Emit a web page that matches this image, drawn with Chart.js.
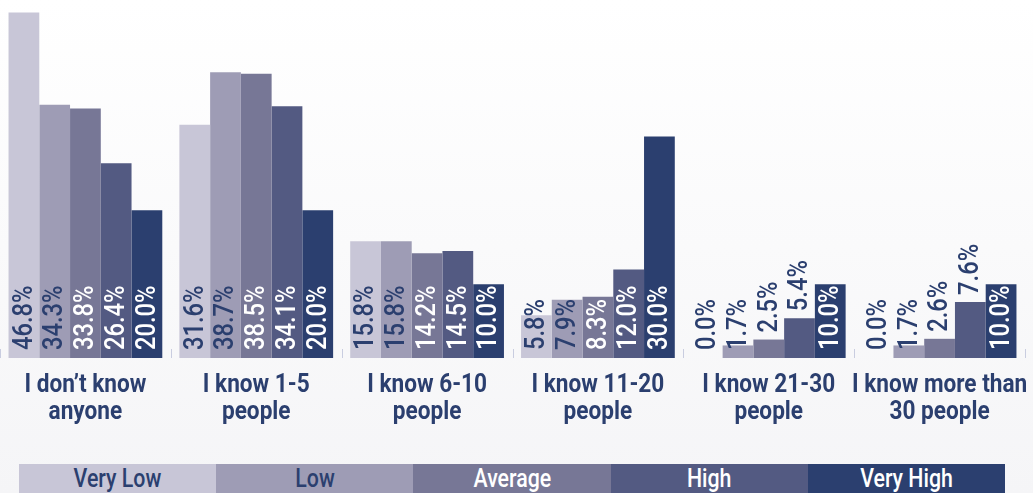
<!DOCTYPE html>
<html>
<head>
<meta charset="utf-8">
<script src="https://cdn.jsdelivr.net/npm/chart.js@4/dist/chart.umd.min.js"></script>
<style>
  html, body { margin: 0; padding: 0; }
  body {
    width: 1033px; height: 493px; overflow: hidden; position: relative;
    background: linear-gradient(#ffffff, #f5f5f7);
  }
  #wrap { position: absolute; left: 0; top: 0; width: 1033px; height: 493px; }
  #legend {
    position: absolute; left: 19px; top: 464px; width: 986px; height: 29px;
    display: flex;
  }
  #legend div {
    flex: 1; text-align: center; line-height: 29px; overflow: hidden;
    font-family: Roboto, sans-serif; font-size: 26px; font-weight: 500;
  }
  #legend span { display: inline-block; transform: scaleX(0.82); }
</style>
</head>
<body>
<div id="wrap"><canvas id="chart"></canvas></div>
<div id="legend"></div>
<script>
// categories and series
const categories = [
  ["I don\u2019t know", "anyone"],
  ["I know 1-5", "people"],
  ["I know 6-10", "people"],
  ["I know 11-20", "people"],
  ["I know 21-30", "people"],
  ["I know more than", "30 people"]
];
const seriesNames = ["Very Low", "Low", "Average", "High", "Very High"];
const veryLow  = [46.8, 31.6, 15.8, 5.8, 0.0, 0.0];
const low      = [34.3, 38.7, 15.8, 7.9, 1.7, 1.7];
const average  = [33.8, 38.5, 14.2, 8.3, 2.5, 2.6];
const high     = [26.4, 34.1, 14.5, 12.0, 5.4, 7.6];
const veryHigh = [20.0, 20.0, 10.0, 30.0, 10.0, 10.0];

const colors = ["#c8c6d7", "#9e9cb5", "#777796", "#535a82", "#2b3f6f"];
const navy = "#2b3f6f";

// value labels drawn vertically at the foot of each bar (condensed look via scaleX)
const barLabels = {
  id: "barLabels",
  afterDatasetsDraw(chart) {
    const ctx = chart.ctx;
    const sx = 0.88;
    ctx.save();
    ctx.font = "500 27px Roboto, sans-serif";
    ctx.textBaseline = "middle";
    ctx.textAlign = "left";
    chart.data.datasets.forEach((ds, i) => {
      chart.getDatasetMeta(i).data.forEach((bar, j) => {
        const txt = ds.data[j].toFixed(1) + "%";
        const w = ctx.measureText(txt).width * sx;
        const h = bar.base - bar.y;
        let start = bar.base - 8;
        let col = navy;
        if (i >= 2) {
          if (h >= w + 6) col = "#ffffff";
          else start = bar.y - 7;
        }
        ctx.fillStyle = col;
        ctx.save();
        ctx.translate(bar.x + 1, start);
        ctx.rotate(-Math.PI / 2);
        ctx.scale(sx, 1);
        ctx.fillText(txt, 0, 0);
        ctx.restore();
      });
    });
    ctx.restore();
  }
};

// category names under the groups, plus small tick marks between groups
const categoryAxis = {
  id: "categoryAxis",
  afterDatasetsDraw(chart) {
    const ctx = chart.ctx, x = chart.scales.x, bottom = chart.chartArea.bottom;
    const step = x.getPixelForValue(1) - x.getPixelForValue(0);
    ctx.save();
    ctx.strokeStyle = "#c9cde0";
    ctx.lineWidth = 1;
    for (let i = 0; i <= categories.length; i++) {
      const px = Math.round(x.getPixelForValue(i) - step / 2) + 0.5;
      ctx.beginPath();
      ctx.moveTo(px, bottom - 9);
      ctx.lineTo(px, bottom);
      ctx.stroke();
    }
    ctx.fillStyle = navy;
    ctx.font = "bold 26px Roboto, sans-serif";
    ctx.textAlign = "center";
    ctx.textBaseline = "alphabetic";
    categories.forEach((lines, i) => {
      const cx = x.getPixelForValue(i);
      lines.forEach((line, k) => {
        ctx.save();
        ctx.translate(cx, bottom + 34 + k * 27);
        ctx.scale(0.87, 1);
        ctx.fillText(line, 0, 0);
        ctx.restore();
      });
    });
    ctx.restore();
  }
};

const seriesValues = [veryLow, low, average, high, veryHigh];

new Chart(document.getElementById("chart"), {
  type: "bar",
  data: {
    labels: categories.map(c => c.join(" ")),
    datasets: seriesValues.map((vals, i) => ({
      label: seriesNames[i],
      data: vals,
      backgroundColor: colors[i],
      borderWidth: 0,
      categoryPercentage: 0.9,
      barPercentage: 1.0
    }))
  },
  options: {
    responsive: true,
    maintainAspectRatio: false,
    animation: false,
    layout: { padding: { left: 0, right: 8, top: 0, bottom: 135 } },
    plugins: { legend: { display: false }, tooltip: { enabled: false } },
    scales: {
      x: { display: false, offset: true },
      y: { display: false, min: 0, max: 48.5 }
    }
  },
  plugins: [barLabels, categoryAxis]
});

// legend built from the series names and colours
const legend = document.getElementById("legend");
seriesNames.forEach((name, i) => {
  const d = document.createElement("div");
  const s = document.createElement("span");
  s.textContent = name;
  d.appendChild(s);
  d.style.background = colors[i];
  d.style.color = i < 2 ? navy : "#ffffff";
  legend.appendChild(d);
});
</script>
</body>
</html>
